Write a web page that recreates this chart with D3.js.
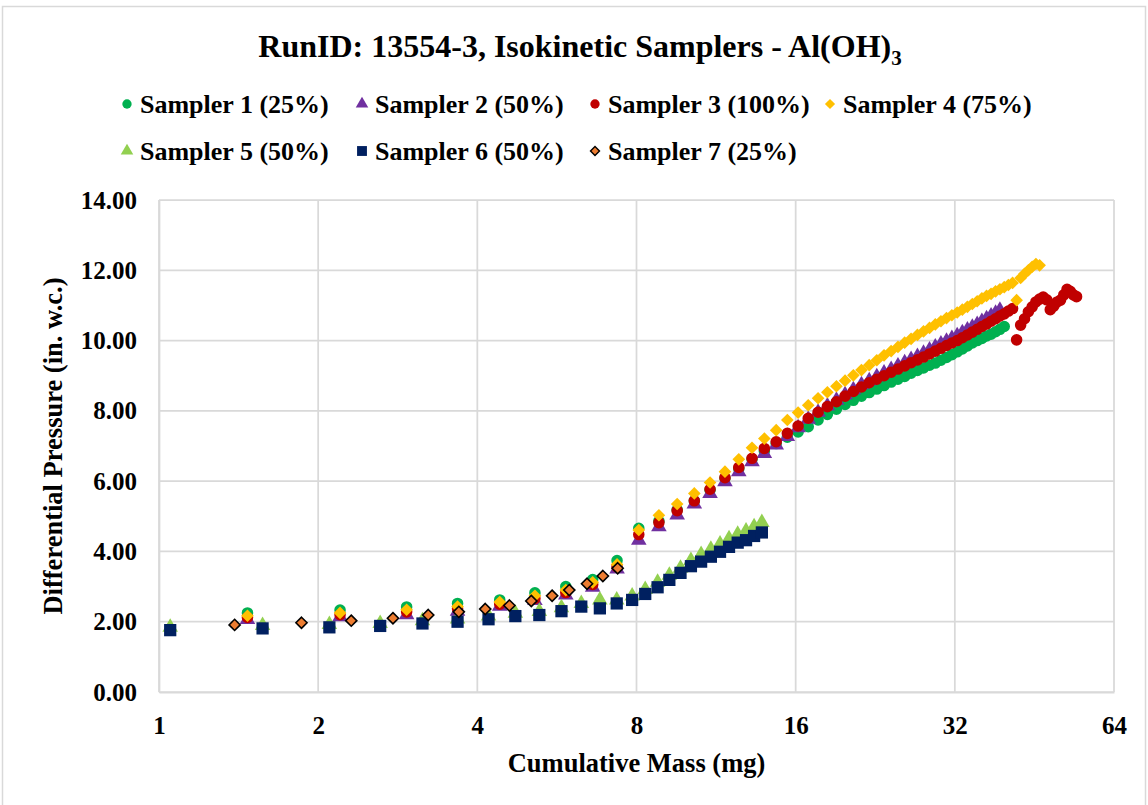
<!DOCTYPE html>
<html>
<head>
<meta charset="utf-8">
<script src="https://cdn.jsdelivr.net/npm/d3@7"></script>
<style>
  body { margin: 0; background: #fff; }
  svg text { font-family: "Liberation Serif", "Times New Roman", serif; font-weight: bold; fill: #000; }
</style>
</head>
<body>
<svg width="1148" height="805"></svg>
<script>
// massa (mg) voor sampler 1 t/m 4 (zelfde meetmomenten)
const massA = [
  1.47, 2.20, 2.94, 3.67, 4.41, 5.14, 5.88, 6.61, 7.35, 8.08,
  8.82, 9.55, 10.29, 11.02, 11.76, 12.49, 13.23, 13.96, 14.70, 15.43,
  16.17, 16.90, 17.64, 18.37, 19.11, 19.84, 20.57, 21.31, 22.04, 22.78,
  23.51, 24.25, 24.98, 25.72, 26.45, 27.19, 27.92, 28.66, 29.39, 30.12,
  30.86, 31.59, 32.33, 33.06, 33.80, 34.53, 35.27, 36.00, 36.74, 37.47,
  38.21, 38.94, 39.68, 40.41, 41.15, 41.88, 42.62, 43.35, 44.08, 44.82,
  45.55, 46.29, 47.02, 47.76, 48.49, 49.23, 49.96, 50.70, 51.43, 52.17,
  52.90, 53.64, 54.37
];

const sampler1 = [
  2.25, 2.33, 2.42, 2.52, 2.62, 2.82, 3.00, 3.20, 3.74, 4.66,
  4.86, 5.18, 5.44, 5.75, 6.08, 6.36, 6.62, 6.86, 7.07, 7.25,
  7.40, 7.55, 7.74, 7.90, 8.05, 8.18, 8.30, 8.42, 8.52, 8.62,
  8.72, 8.82, 8.90, 8.98, 9.07, 9.15, 9.22, 9.30, 9.36, 9.44,
  9.52, 9.60, 9.68, 9.76, 9.85, 9.93, 10.00, 10.06, 10.13, 10.18,
  10.25, 10.32, 10.40
];

const sampler2 = [
  2.06, 2.14, 2.20, 2.30, 2.44, 2.60, 2.76, 2.98, 3.50, 4.32,
  4.70, 5.04, 5.35, 5.65, 5.98, 6.27, 6.55, 6.79, 7.03, 7.27,
  7.52, 7.76, 7.96, 8.14, 8.30, 8.46, 8.60, 8.74, 8.86, 8.97,
  9.08, 9.18, 9.28, 9.37, 9.46, 9.55, 9.64, 9.73, 9.82, 9.90,
  9.98, 10.06, 10.14, 10.22, 10.30, 10.38, 10.46, 10.54, 10.62, 10.70,
  10.78, 10.86
];

const sampler3 = [
  2.12, 2.20, 2.28, 2.37, 2.50, 2.66, 2.83, 3.06, 3.56, 4.48,
  4.82, 5.16, 5.44, 5.77, 6.10, 6.39, 6.65, 6.93, 7.12, 7.36,
  7.57, 7.79, 7.96, 8.12, 8.26, 8.42, 8.55, 8.68, 8.80, 8.90,
  9.00, 9.10, 9.19, 9.28, 9.37, 9.45, 9.53, 9.62, 9.70, 9.78,
  9.86, 9.93, 10.00, 10.08, 10.16, 10.24, 10.32, 10.40, 10.47, 10.55,
  10.62, 10.70, 10.76, 10.84, 10.91, 10.02, 10.44, 10.62, 10.82, 10.96,
  11.10, 11.18, 11.24, 11.16, 10.88, 10.98, 11.10, 11.15, 11.30, 11.46,
  11.40, 11.30, 11.25
];

const sampler4 = [
  2.17, 2.25, 2.34, 2.43, 2.56, 2.74, 2.90, 3.12, 3.63, 4.61,
  5.03, 5.35, 5.65, 5.96, 6.27, 6.62, 6.95, 7.21, 7.45, 7.74,
  7.95, 8.16, 8.36, 8.53, 8.70, 8.86, 9.01, 9.16, 9.30, 9.44,
  9.58, 9.70, 9.82, 9.94, 10.05, 10.16, 10.26, 10.36, 10.46, 10.55,
  10.64, 10.72, 10.80, 10.88, 10.96, 11.04, 11.12, 11.20, 11.27, 11.33,
  11.40, 11.46, 11.52, 11.58, 11.64, 11.15, 11.78, 11.90, 12.00, 12.10,
  12.18, 12.14
];

// massa voor sampler 5 en 6
const massB = [
  1.05, 1.57, 2.10, 2.62, 3.15, 3.67, 4.20, 4.72, 5.24, 5.77,
  6.29, 6.82, 7.34, 7.85, 8.31, 8.77, 9.23, 9.69, 10.14, 10.60,
  11.06, 11.51, 11.97, 12.43, 12.89, 13.35, 13.81
];

const sampler5 = [
  1.84, 1.89, 1.92, 1.95, 2.03, 2.08, 2.16, 2.24, 2.29, 2.40,
  2.52, 2.62, 2.62, 2.73, 2.92, 3.12, 3.32, 3.52, 3.74, 3.91,
  4.06, 4.21, 4.36, 4.49, 4.58, 4.70, 4.82
];

const sampler6 = [
  1.76, 1.81, 1.84, 1.88, 1.95, 2.00, 2.07, 2.16, 2.19, 2.30,
  2.43, 2.38, 2.52, 2.62, 2.79, 2.98, 3.19, 3.39, 3.58, 3.71,
  3.85, 3.99, 4.13, 4.25, 4.32, 4.44, 4.54
];

// massa voor sampler 7
const massC = [1.39, 1.86, 2.31, 2.77, 3.23, 3.69, 4.14, 4.60, 5.06, 5.54, 5.97, 6.45, 6.91, 7.37];
const sampler7 = [1.91, 1.97, 2.03, 2.10, 2.19, 2.28, 2.36, 2.46, 2.59, 2.74, 2.90, 3.08, 3.30, 3.52];

const seriesNames = ["Sampler 1 (25%)", "Sampler 2 (50%)", "Sampler 3 (100%)", "Sampler 4 (75%)",
                     "Sampler 5 (50%)", "Sampler 6 (50%)", "Sampler 7 (25%)"];
const xTicks = [1, 2, 4, 8, 16, 32, 64];
const yTicks = [0, 2, 4, 6, 8, 10, 12, 14];

// Excel-achtige ruit (vierkant op de punt)
const excelDiamond = {
  draw(context, size) {
    const r = Math.sqrt(size / 2);
    context.moveTo(0, -r);
    context.lineTo(r, 0);
    context.lineTo(0, r);
    context.lineTo(-r, 0);
    context.closePath();
  }
};

const series = [
  { name: seriesNames[0], mass: massA, values: sampler1, type: d3.symbolCircle, size: 105, fill: "#00B050" },
  { name: seriesNames[1], mass: massA, values: sampler2, type: d3.symbolTriangle, size: 105, fill: "#7030A0" },
  { name: seriesNames[2], mass: massA, values: sampler3, type: d3.symbolCircle, size: 105, fill: "#C00000" },
  { name: seriesNames[3], mass: massA, values: sampler4, type: excelDiamond, size: 80, fill: "#FFC000" },
  { name: seriesNames[4], mass: massB, values: sampler5, type: d3.symbolTriangle, size: 105, fill: "#92D050" },
  { name: seriesNames[5], mass: massB, values: sampler6, type: d3.symbolSquare, size: 150, fill: "#002060" },
  { name: seriesNames[6], mass: massC, values: sampler7, type: excelDiamond, size: 62, fill: "#ED7D31", stroke: "#000" }
];

const svg = d3.select("svg");
const width = +svg.attr("width");
const height = +svg.attr("height");

const margin = { top: 200, right: 34, bottom: 113, left: 159 };
const innerWidth = width - margin.left - margin.right;
const innerHeight = height - margin.top - margin.bottom;

// rand om de grafiek: links, boven en rechts (onderkant valt buiten beeld)
svg.append("path")
  .attr("d", `M2.5,${height} V6.5 H${width - 2.5} V${height}`)
  .attr("fill", "none")
  .attr("stroke", "#d9d9d9")
  .attr("stroke-width", 1.5);

const xScale = d3.scaleLog().base(2)
  .domain([1, 64])
  .range([0, innerWidth]);

const yScale = d3.scaleLinear()
  .domain([0, 14])
  .range([innerHeight, 0]);

const g = svg.append("g")
  .attr("transform", `translate(${margin.left},${margin.top})`);

// rasterlijnen
g.append("g")
  .selectAll("line")
  .data(yTicks)
  .join("line")
  .attr("x1", 0).attr("x2", innerWidth)
  .attr("y1", d => yScale(d)).attr("y2", d => yScale(d))
  .attr("stroke", "#d9d9d9").attr("stroke-width", 1.75);

g.append("g")
  .selectAll("line")
  .data(xTicks)
  .join("line")
  .attr("x1", d => xScale(d)).attr("x2", d => xScale(d))
  .attr("y1", 0).attr("y2", innerHeight)
  .attr("stroke", "#d9d9d9").attr("stroke-width", 1.75);

// assen
const xAxis = d3.axisBottom(xScale)
  .tickValues(xTicks)
  .tickFormat(d3.format("d"))
  .tickSize(0)
  .tickPadding(24);

const yAxis = d3.axisLeft(yScale)
  .tickValues(yTicks)
  .tickFormat(d3.format(".2f"))
  .tickSize(0)
  .tickPadding(22);

const xg = g.append("g")
  .attr("transform", `translate(0,${innerHeight})`)
  .call(xAxis);
const yg = g.append("g").call(yAxis);

[xg, yg].forEach(a => {
  a.attr("font-family", null).attr("font-size", 25);
  a.select(".domain").attr("stroke", "#d9d9d9").attr("stroke-width", 1.75);
  a.selectAll("text").attr("fill", "#000");
});

// punten per sampler
series.forEach(s => {
  g.append("g")
    .selectAll("path")
    .data(s.values.map((v, i) => ({ m: s.mass[i], p: v })))
    .join("path")
    .attr("transform", d => `translate(${xScale(d.m)},${yScale(d.p)})`)
    .attr("d", d3.symbol().type(s.type).size(s.size))
    .attr("fill", s.fill)
    .attr("stroke", s.stroke || "none")
    .attr("stroke-width", s.stroke ? 1.6 : 0);
});

// titel
const title = svg.append("text")
  .attr("x", 580)
  .attr("y", 57)
  .attr("text-anchor", "middle")
  .attr("font-size", 32);
title.append("tspan").text("RunID: 13554-3, Isokinetic Samplers - Al(OH)");
title.append("tspan").attr("dy", 8).attr("font-size", 21).text("3");

// aslabels
svg.append("text")
  .attr("x", margin.left + xScale(8))
  .attr("y", 772)
  .attr("text-anchor", "middle")
  .attr("font-size", 26.5)
  .text("Cumulative Mass (mg)");

svg.append("text")
  .attr("transform", `translate(62,${margin.top + innerHeight / 2}) rotate(-90)`)
  .attr("text-anchor", "middle")
  .attr("font-size", 26.5)
  .text("Differential Pressure (in. w.c.)");

// legenda (twee rijen)
const legendPos = [[127, 104], [362, 104], [595, 104], [830, 104], [127, 151], [362, 151], [595, 151]];

const legend = svg.append("g")
  .selectAll("g")
  .data(series)
  .join("g")
  .attr("transform", (d, i) => `translate(${legendPos[i][0]},${legendPos[i][1]})`);

legend.append("path")
  .attr("d", d => d3.symbol().type(d.type).size(d.size * 0.65)())
  .attr("fill", d => d.fill)
  .attr("stroke", d => d.stroke || "none")
  .attr("stroke-width", d => d.stroke ? 1.4 : 0);

legend.append("text")
  .attr("x", 13)
  .attr("y", 9)
  .attr("font-size", 26)
  .text(d => d.name);
</script>
</body>
</html>
